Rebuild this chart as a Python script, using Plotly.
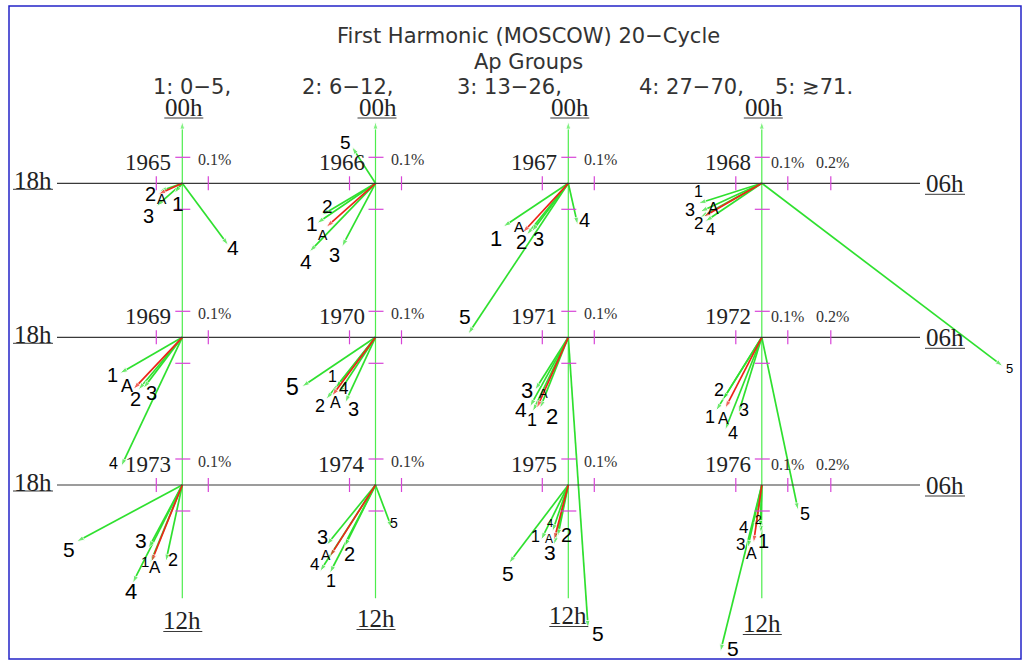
import math
import plotly.graph_objects as go

# ---------------- data ----------------
YEARS = [1965, 1966, 1967, 1968, 1969, 1970, 1971, 1972, 1973, 1974, 1975, 1976]
GROUPS = ["1", "2", "3", "4", "5", "A"]

# amplitude of the first harmonic (%) per Ap group, one value per year
AMP_1 = [0.049, 0.273, 0.301, 0.256, 0.277, 0.249, 0.317, 0.333, 0.326, 0.382, 0.236, 0.185]
AMP_2 = [0.094, 0.240, 0.255, 0.271, 0.264, 0.305, 0.294, 0.284, 0.302, 0.265, 0.203, 0.166]
AMP_3 = [0.133, 0.276, 0.233, 0.261, 0.247, 0.277, 0.240, 0.306, 0.276, 0.298, 0.237, 0.248]
AMP_4 = [0.297, 0.366, 0.164, 0.263, 0.549, 0.258, 0.305, 0.383, 0.423, 0.396, 0.190, 0.175]
AMP_5 = [None, 0.167, 0.696, 1.164, None, 0.341, 1.121, 0.680, 0.461, 0.178, 0.378, 0.661]
AMP_A = [0.102, 0.254, 0.259, 0.259, 0.275, 0.281, 0.299, 0.307, 0.319, 0.327, 0.219, 0.225]

# phase (local hour of maximum; 00h up, 06h right, 12h down, 18h left)
PH_1 = [14.58, 15.71, 15.75, 16.83, 16.00, 14.54, 13.71, 14.13, 13.49, 13.83, 13.76, 12.08]
PH_2 = [16.72, 15.96, 14.59, 16.07, 14.66, 14.57, 13.45, 14.13, 12.81, 13.77, 12.77, 12.14]
PH_3 = [15.23, 13.86, 14.47, 16.35, 14.49, 13.66, 14.15, 13.14, 13.88, 14.61, 12.89, 12.84]
PH_4 = [9.56, 14.93, 11.15, 15.73, 13.69, 14.23, 13.93, 13.44, 13.79, 14.18, 13.26, 12.54]
PH_5 = [None, 21.81, 14.24, 8.48, None, 15.74, 11.74, 11.21, 16.12, 10.62, 14.48, 12.93]
PH_A = [16.36, 15.22, 14.85, 16.01, 14.89, 14.44, 13.60, 13.82, 13.46, 14.17, 12.97, 12.54]

AMPS = {"1": AMP_1, "2": AMP_2, "3": AMP_3, "4": AMP_4, "5": AMP_5, "A": AMP_A}
PHASES = {"1": PH_1, "2": PH_2, "3": PH_3, "4": PH_4, "5": PH_5, "A": PH_A}

TITLE_1 = "First Harmonic (MOSCOW) 20\u2212Cycle"
TITLE_2 = "Ap Groups"
AP_GROUP_TEXT = ["1: 0\u22125,", "2: 6\u221212,", "3: 13\u221226,", "4: 27\u221270,", "5: \u227371."]
HOUR_TOP, HOUR_RIGHT, HOUR_BOTTOM, HOUR_LEFT = "00h", "06h", "12h", "18h"
SCALE_VALUES = [0.1, 0.2]
SCALE_LABELS = ["0.1%", "0.2%"]

# ---------------- layout (pixels) ----------------
W, H = 1029, 662
S = 260.0  # pixels per 1 % of amplitude


def X(px):
    return px / S


def Y(py):
    return -py / S


COL_X = [182.3, 375.5, 568.3, 761.8]
ROW_Y = [183.3, 337.3, 485.0]
SCALE_TICK_PX = {0.1: 26.0, 0.2: 69.0}   # drawn position of the scale ticks
AP_TEXT_X = [151, 300, 455, 637, 773]
BOTTOM_LABEL_Y = [620, 618, 615, 623]

# label offset from arrow tip (dx, dy in px, dy downward) and font size
LABEL_LAYOUT = {
    1965: {"1": (4, 10, 19), "2": (-9, 3, 18), "3": (-8, 10, 18), "4": (5, 2, 19), "A": (4, 5, 12)},
    1966: {"1": (-5, 0, 19), "2": (6, -9, 17), "3": (-7, 8, 18), "4": (-3, 10, 19), "5": (-6, -4, 17), "A": (-3, 8, 12)},
    1967: {"1": (-7, 12, 20), "2": (-5, 7, 18), "3": (7, 7, 18), "4": (7, -5, 18), "5": (-3, -18, 19), "A": (-4, -6, 13)},
    1968: {"1": (0, -12, 14), "2": (-2, 6, 15), "3": (-10, -2, 16), "4": (5, 8, 15), "5": (7, 2, 11), "A": (10, -8, 14)},
    1969: {"1": (-7, 2, 18), "2": (-3, 9, 18), "3": (8, 5, 18), "4": (-8, -3, 14), "A": (-6, -3, 16)},
    1970: {"1": (-3, -12, 14), "2": (-6, 7, 16), "3": (8, 6, 18), "4": (5, -5, 15), "5": (-9, 0, 21), "A": (4, 7, 14)},
    1971: {"1": (-1, 8, 16), "2": (12, 8, 20), "3": (-8, 0, 20), "4": (-9, 3, 19), "5": (10, 5, 19), "A": (7, -15, 11)},
    1972: {"1": (-6, 6, 16), "2": (-4, -10, 16), "3": (6, -3, 16), "4": (8, 3, 16), "5": (7, 4, 16), "A": (-2, 10, 14)},
    1973: {"1": (-5, -2, 13), "2": (7, -2, 16), "3": (-7, -8, 19), "4": (-2, 8, 20), "5": (-8, 8, 19), "A": (4, 6, 15)},
    1974: {"1": (1, 8, 16), "2": (5, 7, 18), "3": (-4, -8, 18), "4": (-5, -7, 15), "5": (2, -5, 12), "A": (-4, -2, 12)},
    1975: {"1": (-6, -3, 14), "2": (9, -2, 18), "3": (-4, 8, 19), "4": (-2, -9, 9), "5": (-1, 10, 19), "A": (-5, -1, 10)},
    1976: {"1": (3, 8, 18), "2": (-2, -8, 10), "3": (-7, -3, 15), "4": (-12, -3, 15), "5": (13, -3, 19), "A": (-2, 11, 14)},
}
LABEL_SIZE_BOOST = 2

GREEN = "#2fe02f"
AXIS_GREEN = "#4ded4d"
RED = "#ec2418"
MAGENTA = "#d744d7"
INK = "#222222"
SERIF = "Liberation Serif"
SANS = "Liberation Sans"

fig = go.Figure()
shapes = []
annotations = []


def hline(x0, x1, y, color, width):
    shapes.append(dict(type="line", xref="x", yref="y", x0=x0, x1=x1, y0=y, y1=y,
                       line=dict(color=color, width=width)))


def text(x, y, s, size, family, color=INK, xanchor="center", yanchor="middle"):
    annotations.append(dict(x=x, y=y, xref="x", yref="y", text=s, showarrow=False,
                            xanchor=xanchor, yanchor=yanchor,
                            font=dict(size=size, family=family, color=color)))


# frame
shapes.append(dict(type="rect", xref="x", yref="y", x0=X(9), x1=X(1021), y0=Y(6), y1=Y(659),
                   line=dict(color="#2323c8", width=1.5)))

# horizontal (18h-06h) axes
for r, yp in enumerate(ROW_Y):
    hline(X(57), X(920), Y(yp), "#3a3a3a", 1.2)
    text(X(33), Y(yp - 2.5), HOUR_LEFT, 25, SERIF)
    hline(X(13), X(53), Y(yp + 6), "#3a3a3a", 1)
    text(X(945), Y(yp), HOUR_RIGHT, 25, SERIF)
    hline(X(925), X(965), Y(yp + 11), "#3a3a3a", 1)

# vertical (00h-12h) axes with arrow
for c, xp in enumerate(COL_X):
    fig.add_trace(go.Scatter(
        x=[X(xp), X(xp)], y=[Y(598.3), Y(121.5)], mode="lines+markers",
        line=dict(color=AXIS_GREEN, width=1.2),
        marker=dict(symbol="arrow", size=[0, 8], angleref="previous", color=AXIS_GREEN),
        hoverinfo="skip", showlegend=False))
    text(X(xp + 2), Y(107.5), HOUR_TOP, 25, SERIF)
    hline(X(xp - 18), X(xp + 21), Y(118), "#3a3a3a", 1)
    by = BOTTOM_LABEL_Y[c]
    text(X(xp), Y(by), HOUR_BOTTOM, 25, SERIF)
    hline(X(xp - 19), X(xp + 20), Y(by + 11.5), "#3a3a3a", 1)

# scale ticks, year labels
for i, yr in enumerate(YEARS):
    c, r = i % 4, i // 4
    cx, cy = X(COL_X[c]), Y(ROW_Y[r])
    t = 7 / S
    ticks = [0.1] if c < 3 else SCALE_VALUES
    for v in ticks:
        px = SCALE_TICK_PX[v] / S
        shapes.append(dict(type="line", xref="x", yref="y", x0=cx + px, x1=cx + px, y0=cy - t, y1=cy + t,
                           line=dict(color=MAGENTA, width=1.2)))
    shapes.append(dict(type="line", xref="x", yref="y", x0=cx - 0.1, x1=cx - 0.1, y0=cy - t, y1=cy + t,
                       line=dict(color=MAGENTA, width=1.2)))
    for v in (0.1, -0.1):
        shapes.append(dict(type="line", xref="x", yref="y", x0=cx - t, x1=cx + 8 / S, y0=cy + v, y1=cy + v,
                           line=dict(color=MAGENTA, width=1.2)))
    text(cx - 9 / S, cy + 21 / S, str(yr), 23, SERIF, xanchor="right")
    if c < 3:
        text(cx + 32 / S, cy + 24 / S, SCALE_LABELS[0], 16, SERIF, color="#333333")
    else:
        text(cx + 26 / S, cy + 21 / S, SCALE_LABELS[0], 16, SERIF, color="#333333")
        text(cx + 71 / S, cy + 21 / S, SCALE_LABELS[1], 16, SERIF, color="#333333")

# harmonic vectors
gx, gy, gs = [], [], []
rx, ry, rs = [], [], []
for i, yr in enumerate(YEARS):
    c, r = i % 4, i // 4
    cx, cy = X(COL_X[c]), Y(ROW_Y[r])
    for g in GROUPS:
        a, p = AMPS[g][i], PHASES[g][i]
        if a is None:
            continue
        th = math.radians(p * 15.0)
        tx, ty = cx + a * math.sin(th), cy + a * math.cos(th)
        if g == "A":
            rx += [cx, tx, None]; ry += [cy, ty, None]; rs += [0, 8, 0]
        else:
            gx += [cx, tx, None]; gy += [cy, ty, None]; gs += [0, 8, 0]
        ox, oy, fs = LABEL_LAYOUT[yr][g]
        text(tx + ox / S, ty - oy / S, g, fs + LABEL_SIZE_BOOST, SANS, color="#000000")

fig.add_trace(go.Scatter(x=gx, y=gy, mode="lines+markers",
                         line=dict(color=GREEN, width=1.7),
                         marker=dict(symbol="arrow", size=gs, angleref="previous", color=GREEN),
                         hoverinfo="skip", showlegend=False))
fig.add_trace(go.Scatter(x=rx, y=ry, mode="lines+markers",
                         line=dict(color=RED, width=1.7),
                         marker=dict(symbol="arrow", size=rs, angleref="previous", color=RED),
                         hoverinfo="skip", showlegend=False))

# titles
text(X(528), Y(35.5), TITLE_1, 21, "DejaVu Sans", color="#333333")
text(X(528), Y(61.5), TITLE_2, 21, "DejaVu Sans", color="#333333")
for s_, xp in zip(AP_GROUP_TEXT, AP_TEXT_X):
    text(X(xp), Y(86.5), s_, 21, "DejaVu Sans", color="#333333", xanchor="left")

fig.update_layout(
    width=W, height=H, margin=dict(l=0, r=0, t=0, b=0),
    paper_bgcolor="white", plot_bgcolor="white",
    xaxis=dict(range=[0, W / S], visible=False, fixedrange=True),
    yaxis=dict(range=[-H / S, 0], visible=False, fixedrange=True),
    shapes=shapes, annotations=annotations, showlegend=False,
)

fig.write_html("out.html", config={"displayModeBar": False},
               post_script="document.body.style.margin='0px';")
